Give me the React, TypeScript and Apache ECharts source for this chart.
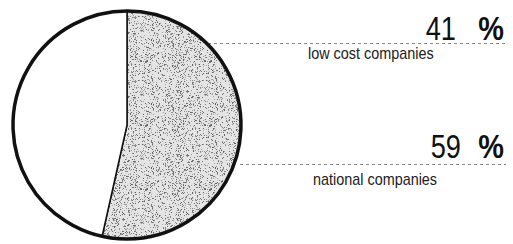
import React, { useEffect, useRef } from "react";
import * as echarts from "echarts";

// Slice shares as drawn in the picture (the sketch's boundary sits near 192°)
const categories = ["national companies", "low cost companies"];
const sliceShares = [53.5, 46.5];
// Percent labels printed on the chart
const percentLabels = ["59", "41"];

function makeStipple(): HTMLCanvasElement {
  const c = document.createElement("canvas");
  c.width = 64;
  c.height = 64;
  const ctx = c.getContext("2d")!;
  ctx.fillStyle = "#e4e4e4";
  ctx.fillRect(0, 0, 64, 64);
  let s = 12345;
  const next = () => {
    s = (s * 1103515245 + 12345) & 0x7fffffff;
    return s / 0x7fffffff;
  };
  for (let i = 0; i < 900; i++) {
    const x = Math.floor(next() * 64);
    const y = Math.floor(next() * 64);
    const g = Math.floor(90 + next() * 80);
    ctx.fillStyle = `rgb(${g},${g},${g})`;
    ctx.fillRect(x, y, 1, 1);
  }
  return c;
}

export default function App() {
  const ref = useRef<HTMLDivElement>(null);
  useEffect(() => {
    if (!ref.current) return;
    const chart = echarts.init(ref.current, null, { renderer: "svg" });
    const stipple = makeStipple();
    const font = "'Liberation Sans', Arial, sans-serif";
    const txt = (
      t: string,
      x: number,
      y: number,
      size: number,
      weight: string,
      align: string,
      sx: number,
      fill: string
    ) => ({
      type: "text",
      x,
      y,
      scaleX: sx,
      style: {
        text: t,
        x: 0,
        y: 0,
        align,
        verticalAlign: "middle",
        font: `${weight} ${size}px ${font}`,
        fill,
      },
    });
    chart.setOption({
      animation: false,
      backgroundColor: "#fff",
      series: [
        {
          type: "pie",
          center: [127, 125],
          radius: 114,
          startAngle: 90,
          clockwise: true,
          silent: true,
          label: { show: false },
          labelLine: { show: false },
          itemStyle: { borderColor: "#111", borderWidth: 1.5 },
          data: categories.map((name, i) => ({
            name,
            value: sliceShares[i],
            itemStyle: {
              color: i === 0 ? { image: stipple, repeat: "repeat" } : "#fff",
            },
          })),
        },
        {
          type: "pie",
          center: [127, 125],
          radius: 114,
          silent: true,
          label: { show: false },
          labelLine: { show: false },
          itemStyle: { color: "none", borderColor: "#111", borderWidth: 3.5 },
          data: [{ name: "outline", value: 1 }],
        },
      ],
      graphic: [
        {
          type: "line",
          shape: { x1: 88, y1: 43.5, x2: 506, y2: 43.5 },
          style: { stroke: "#888", lineWidth: 1, lineDash: [3, 3] },
        },
        {
          type: "line",
          shape: { x1: 240, y1: 164.5, x2: 506, y2: 164.5 },
          style: { stroke: "#888", lineWidth: 1, lineDash: [3, 3] },
        },
        txt(percentLabels[1], 456, 28, 34, "normal", "right", 0.8, "#111"),
        txt("%", 504, 28, 34, "bold", "right", 0.85, "#111"),
        txt(percentLabels[0], 461, 146, 34, "normal", "right", 0.8, "#111"),
        txt("%", 504, 146, 34, "bold", "right", 0.85, "#111"),
        txt(categories[1], 308, 53, 16, "normal", "left", 0.9, "#222"),
        txt(categories[0], 313, 179.5, 16, "normal", "left", 0.9, "#222"),
      ],
    });
    return () => chart.dispose();
  }, []);
  return (
    <div
      ref={ref}
      style={{ position: "fixed", left: 0, top: 0, width: 513, height: 244 }}
    />
  );
}
